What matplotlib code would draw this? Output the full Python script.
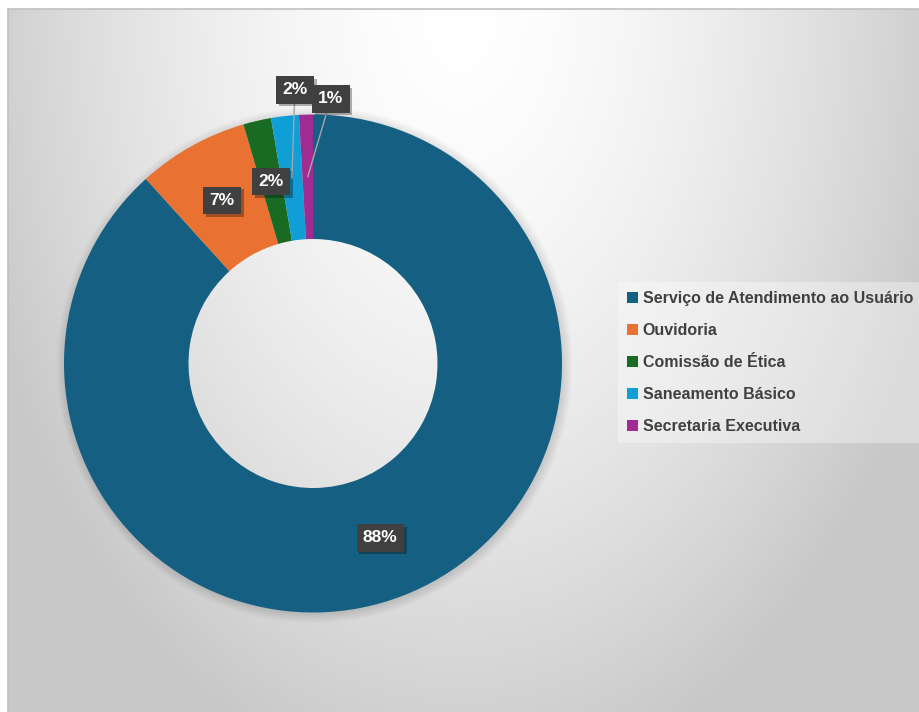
import numpy as np
import matplotlib
matplotlib.use("Agg")
import matplotlib.pyplot as plt
import matplotlib.patches as patches
import matplotlib.patheffects as pe

# atendimentos por canal
categories = [
    "Serviço de Atendimento ao Usuário",
    "Ouvidoria",
    "Comissão de Ética",
    "Saneamento Básico",
    "Secretaria Executiva",
]
values = [98, 8, 2, 2, 1]
colors = ["#156082", "#E97132", "#196B24", "#0F9ED5", "#A02B93"]

W, H = 919, 712
fig = plt.figure(figsize=(W / 100, H / 100), dpi=100)
fig.patch.set_facecolor("white")

# chart area background: soft radial gray gradient, lightest at top centre
x0, y0 = 8, 9
bg = fig.add_axes([x0 / W, 0, (W - x0) / W, (H - y0) / H])
xs = np.arange(x0, W) + 0.5
ys = np.arange(y0, H) + 0.5
gx, gy = np.meshgrid(xs, ys)
d = np.sqrt(((gx - 460) / 500) ** 2 + ((gy - y0) / 780) ** 2)
shade = np.clip(1 - 0.21 * d ** 1.6, 0.785, 1)
bg.imshow(np.dstack([shade] * 3), aspect="auto", interpolation="bilinear")
bg.set_xticks([])
bg.set_yticks([])
for side in ("right", "bottom"):
    bg.spines[side].set_visible(False)
for side in ("top", "left"):
    bg.spines[side].set_color("#c0c0c0")
    bg.spines[side].set_linewidth(1.2)

# donut in pixel coordinates
ax = fig.add_axes([0, 0, 1, 1])
ax.patch.set_alpha(0)
cx, cy, r_out = 313, H - 363.5, 249
ring = r_out / 2

# faint halo just outside the ring
for k in range(10):
    ax.add_patch(patches.Wedge((cx + 1.5, cy - 1.5), r_out + 9 - k, 0, 360,
                               width=ring - 4 + 9 - k, facecolor="black",
                               edgecolor="none", alpha=0.012))

wedges, _ = ax.pie(values, colors=colors, startangle=90, counterclock=False,
                   center=(cx, cy), radius=r_out,
                   wedgeprops=dict(width=ring, linewidth=0))
ax.set_xlim(0, W)
ax.set_ylim(0, H)
ax.set_aspect("auto")
ax.axis("off")

total = sum(values)
r_mid = r_out - ring / 2
# small slices get their label pulled outside with a leader line
offsets = {3: (3, 88), 4: (23, 78)}
label_font = dict(family=["Liberation Sans", "DejaVu Sans"], weight="bold",
                  size=12.5, color="white")
box = dict(boxstyle="square,pad=0.36", facecolor="#404040", edgecolor="none")

for i, (w, v) in enumerate(zip(wedges, values)):
    ang = np.deg2rad((w.theta1 + w.theta2) / 2)
    px, py = cx + r_mid * np.cos(ang), cy + r_mid * np.sin(ang)
    txt = f"{round(100 * v / total)}%"
    if i in offsets:
        t = ax.annotate(txt, xy=(px, py), xytext=offsets[i],
                        textcoords="offset pixels", ha="center", va="center",
                        bbox=box, **label_font,
                        arrowprops=dict(arrowstyle="-", color="#a6a6a6",
                                        lw=1, shrinkA=0, shrinkB=0))
    else:
        t = ax.text(px, py, txt, ha="center", va="center", bbox=box,
                    **label_font)
    t.get_bbox_patch().set_path_effects([
        pe.SimplePatchShadow(offset=(2, -2), shadow_rgbFace="black", alpha=0.3),
        pe.Normal(),
    ])

handles = [patches.Patch(facecolor=c, edgecolor="none", label=n)
           for c, n in zip(colors, categories)]
leg = fig.legend(handles=handles, loc="upper left",
                 bbox_to_anchor=(618 / W, 1 - 282 / H), borderaxespad=0,
                 frameon=True, fancybox=False, framealpha=0.35,
                 facecolor="white", edgecolor="none",
                 prop=dict(family=["Liberation Sans", "DejaVu Sans"],
                           weight="bold", size=11.5),
                 labelcolor="#404040", handlelength=0.7, handleheight=0.7,
                 handletextpad=0.3, labelspacing=1.07, borderpad=0.55)

fig.savefig("out.png", dpi=100)
